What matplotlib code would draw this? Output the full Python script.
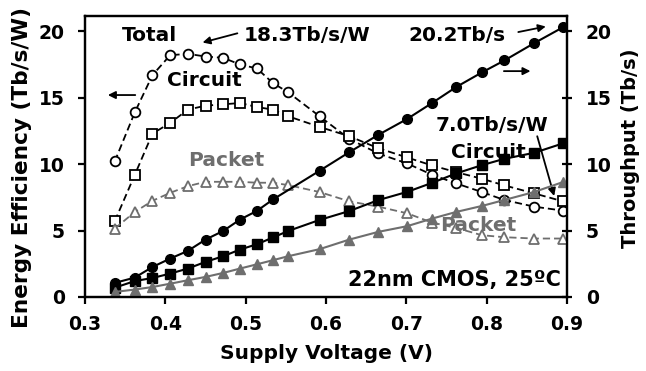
import numpy as np
import matplotlib
matplotlib.use('Agg')
import matplotlib.pyplot as plt

plt.rcParams['font.family'] = 'DejaVu Sans'
plt.rcParams['font.weight'] = 'bold'

# supply voltage of the measured points (V)
volt = [0.337, 0.362, 0.384, 0.406, 0.428, 0.450, 0.472, 0.493, 0.514, 0.534,
        0.553, 0.592, 0.629, 0.665, 0.701, 0.732, 0.762, 0.794, 0.822, 0.859, 0.895]
# total throughput has no point at 0.553 V
volt_tp = [0.337, 0.362, 0.384, 0.406, 0.428, 0.450, 0.472, 0.493, 0.514, 0.534,
           0.592, 0.629, 0.665, 0.701, 0.732, 0.762, 0.794, 0.822, 0.859, 0.895]

# energy efficiency (Tb/s/W)
eff_total = [10.2, 13.9, 16.7, 18.2, 18.3, 18.1, 18.0, 17.5, 17.2, 16.1,
             15.4, 13.6, 11.9, 10.8, 10.05, 9.2, 8.55, 7.9, 7.3, 6.8, 6.5]
eff_circuit = [5.7, 9.2, 12.3, 13.1, 14.1, 14.4, 14.5, 14.6, 14.3, 14.1,
               13.6, 12.8, 12.1, 11.2, 10.5, 9.9, 9.4, 8.9, 8.4, 7.8, 7.2]
eff_packet = [5.15, 6.4, 7.24, 7.84, 8.34, 8.67, 8.67, 8.67, 8.6, 8.6,
              8.42, 7.9, 7.2, 6.8, 6.3, 5.6, 5.2, 4.65, 4.5, 4.4, 4.4]

# throughput (Tb/s)
tp_total = [1.06, 1.46, 2.26, 2.89, 3.47, 4.32, 4.97, 5.83, 6.48, 7.34,
            9.5, 10.9, 12.2, 13.4, 14.6, 15.8, 16.9, 17.8, 19.1, 20.3]
tp_circuit = [0.7, 1.2, 1.43, 1.76, 2.14, 2.64, 3.07, 3.57, 3.97, 4.48,
              4.97, 5.8, 6.47, 7.29, 7.91, 8.59, 9.3, 9.92, 10.4, 10.85, 11.56]
tp_packet = [0.38, 0.56, 0.75, 1.0, 1.26, 1.51, 1.81, 2.14, 2.46, 2.77,
             3.07, 3.6, 4.32, 4.9, 5.33, 5.9, 6.4, 6.85, 7.3, 7.9, 8.65]

gray = '#6e6e6e'

fig = plt.figure(figsize=(6.46, 3.71), dpi=100)
ax = fig.add_axes([0.1316, 0.1995, 0.7461, 0.7574])
ax2 = ax.twinx()

ms = 7
dash = (0, (4, 2.2))
ax.plot(volt, eff_total, ls=dash, color='black', lw=1.3, marker='o', ms=ms,
        mfc='white', mec='black', mew=1.3, zorder=3)
ax.plot(volt, eff_circuit, ls=dash, color='black', lw=1.3, marker='s', ms=ms,
        mfc='white', mec='black', mew=1.3, zorder=3)
ax.plot(volt, eff_packet, ls=dash, color=gray, lw=1.3, marker='^', ms=ms,
        mfc='white', mec=gray, mew=1.3, zorder=3)

ax2.plot(volt_tp, tp_total, '-', color='black', lw=1.5, marker='o', ms=ms)
ax2.plot(volt, tp_circuit, '-', color='black', lw=1.5, marker='s', ms=ms)
ax2.plot(volt, tp_packet, '-', color=gray, lw=1.5, marker='^', ms=ms)

for a in (ax, ax2):
    a.set_xlim(0.3, 0.9)
    a.set_ylim(0, 21.15)
    a.set_yticks([0, 5, 10, 15, 20])
    for s in a.spines.values():
        s.set_linewidth(1.6)
ax.set_xticks([0.3, 0.4, 0.5, 0.6, 0.7, 0.8, 0.9])
ax.tick_params(axis='x', direction='out', length=5, width=1.6, labelsize=13.5, pad=8)
ax.tick_params(axis='y', direction='out', length=5, width=1.6, labelsize=13.5, pad=9.5)
ax2.tick_params(axis='y', direction='inout', length=7, width=1.6, labelsize=13.5, pad=10)

ax.set_xlabel('Supply Voltage (V)', fontsize=14.5, fontweight='bold', labelpad=7)
ax.set_ylabel('Energy Efficiency (Tb/s/W)', fontsize=15.6, fontweight='bold')
ax.yaxis.set_label_coords(-0.11, 0.46)
ax2.set_ylabel('Throughput (Tb/s)', fontsize=14, fontweight='bold')
ax2.yaxis.set_label_coords(1.112, 0.53)

fs = 14.5
ax.text(0.346, 19.7, 'Total', fontsize=fs, fontweight='bold', va='center')
ax.text(0.497, 19.7, '18.3Tb/s/W', fontsize=fs, fontweight='bold', va='center')
ax.text(0.702, 19.7, '20.2Tb/s', fontsize=fs, fontweight='bold', va='center')
ax.text(0.402, 16.3, 'Circuit', fontsize=fs, fontweight='bold', va='center')
ax.text(0.428, 10.3, 'Packet', fontsize=fs, fontweight='bold', va='center', color=gray)
ax.text(0.737, 12.9, '7.0Tb/s/W', fontsize=fs, fontweight='bold', va='center')
ax.text(0.755, 10.9, 'Circuit', fontsize=fs, fontweight='bold', va='center')
ax.text(0.742, 5.4, 'Packet', fontsize=fs, fontweight='bold', va='center', color=gray)
ax.text(0.892, 1.25, '22nm CMOS, 25ºC', fontsize=15, fontweight='bold',
        va='center', ha='right')

arw = dict(arrowstyle='-|>', color='black', lw=1.3, mutation_scale=11)
ax.annotate('', xy=(0.443, 19.1), xytext=(0.493, 19.9), arrowprops=arw)
ax.annotate('', xy=(0.877, 20.4), xytext=(0.836, 19.9), arrowprops=arw)
ax.annotate('', xy=(0.325, 15.2), xytext=(0.366, 15.2), arrowprops=arw)
ax.annotate('', xy=(0.858, 17.0), xytext=(0.818, 17.0), arrowprops=arw)
ax.annotate('', xy=(0.885, 7.4), xytext=(0.862, 12.3), arrowprops=arw)

fig.savefig('out.png', dpi=100)
